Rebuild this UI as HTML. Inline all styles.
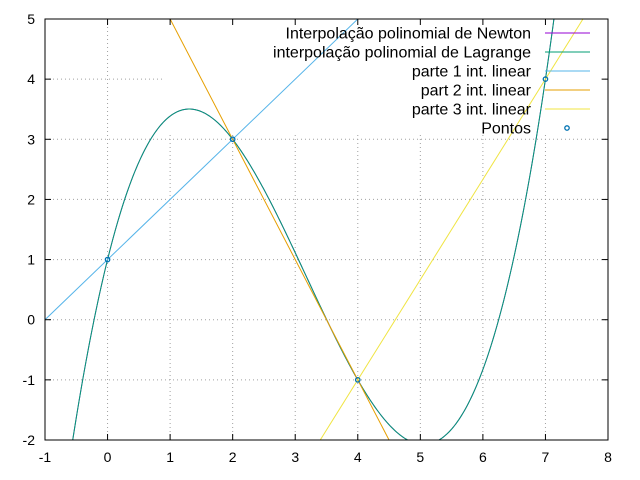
<!DOCTYPE html>
<html><head><meta charset="utf-8"><style>
html,body{margin:0;background:#fff;width:640px;height:480px;overflow:hidden}
svg{display:block;font-family:"Liberation Sans",sans-serif}
</style></head><body>
<svg id="c" width="640" height="480"></svg>
<script>
const xTicks=[-1,0,1,2,3,4,5,6,7,8];
const yTicks=[-2,-1,0,1,2,3,4,5];
const pointsX=[0,2,4,7];
const pointsY=[1,3,-1,4];
const legendLabels=["Interpolação polinomial de Newton","interpolação polinomial de Lagrange","parte 1 int. linear","part 2 int. linear","parte 3 int. linear","Pontos"];
const legendColors=["#9400d3","#009e73","#56b4e9","#e69f00","#f0e442","#0072b2"];
const X0=45,X1=608,Y0=440,Y1=19;
const sx=v=>X0+(v+1)/9*(X1-X0);
const sy=v=>Y0-(v+2)/7*(Y0-Y1);
const svg=document.getElementById('c');
const NS='http://www.w3.org/2000/svg';
function mk(t,a,p){const e=document.createElementNS(NS,t);for(const k in a)e.setAttribute(k,a[k]);(p||svg).appendChild(e);return e;}
xTicks.forEach(v=>{if(v>-1&&v<8){const l=mk('line',{x1:sx(v),x2:sx(v),y1:Y0,y2:Y1,stroke:'#a0a0a0','stroke-dasharray':'1,3','stroke-width':1});

}});
yTicks.forEach(v=>{if(v>-2&&v<5){const l=mk('line',{x1:X0,x2:X1,y1:sy(v),y2:sy(v),stroke:'#a0a0a0','stroke-dasharray':'1,3','stroke-width':1});

}});
const bg=mk('rect',{x:163,y:Y1+1,width:437,height:115,fill:'#fff'});


const defs=mk('defs',{});const cp=mk('clipPath',{id:'cp'},defs);mk('rect',{x:X0,y:Y1,width:X1-X0,height:Y0-Y1},cp);
const g=mk('g',{'clip-path':'url(#cp)'});
const n=pointsX.length;const dd=pointsY.slice();const coef=[dd[0]];
for(let j=1;j<n;j++){for(let i=n-1;i>=j;i--)dd[i]=(dd[i]-dd[i-1])/(pointsX[i]-pointsX[i-j]);coef.push(dd[j]);}
function newton(x){let r=coef[n-1];for(let i=n-2;i>=0;i--)r=r*(x-pointsX[i])+coef[i];return r;}
function lagrange(x){let s=0;for(let i=0;i<n;i++){let p=pointsY[i];for(let j=0;j<n;j++)if(j!==i)p*=(x-pointsX[j])/(pointsX[i]-pointsX[j]);s+=p;}return s;}
function curve(f,col,name){let d='';for(let k=0;k<=400;k++){const x=-1+9*k/400;const y=Math.max(-10,Math.min(20,f(x)));d+=(k?'L':'M')+sx(x).toFixed(2)+','+sy(y).toFixed(2);}
const p=mk('path',{d:d,fill:'none',stroke:col,'stroke-width':1},g);

}
curve(newton,legendColors[0],'newton-curve');
curve(lagrange,legendColors[1],'lagrange-curve');
for(let s=0;s<3;s++){const xa=pointsX[s],xb=pointsX[s+1],ya=pointsY[s],yb=pointsY[s+1];const m=(yb-ya)/(xb-xa);
const f=x=>ya+m*(x-xa);
const l=mk('line',{x1:sx(-1),y1:sy(f(-1)),x2:sx(8),y2:sy(f(8)),stroke:legendColors[2+s],'stroke-width':1},g);

}
pointsX.forEach((x,i)=>{const r=mk('circle',{cx:sx(x),cy:sy(pointsY[i]),r:2.2,fill:'none',stroke:legendColors[5],'stroke-width':1.3});

});
const fr=mk('rect',{x:X0,y:Y1,width:X1-X0,height:Y0-Y1,fill:'none',stroke:'#000','stroke-width':1});


xTicks.forEach(v=>{mk('line',{x1:sx(v),x2:sx(v),y1:Y0,y2:Y0-6,stroke:'#000'});mk('line',{x1:sx(v),x2:sx(v),y1:Y1,y2:Y1+6,stroke:'#000'});
const t=mk('text',{x:sx(v),y:Y0+22,'text-anchor':'middle','font-size':14});t.textContent=v;

});
yTicks.forEach(v=>{mk('line',{x1:X0,x2:X0+6,y1:sy(v),y2:sy(v),stroke:'#000'});mk('line',{x1:X1,x2:X1-6,y1:sy(v),y2:sy(v),stroke:'#000'});
const t=mk('text',{x:X0-10,y:sy(v)+5,'text-anchor':'end','font-size':14});t.textContent=v;

});
legendLabels.forEach((lab,i)=>{const y=33+i*19;
const t=mk('text',{x:531,y:y+5.5,'text-anchor':'end','font-size':16});t.textContent=lab;


if(i<5){const l=mk('line',{x1:545,x2:590,y1:y,y2:y,stroke:legendColors[i],'stroke-width':1});

}
else{const r=mk('circle',{cx:567,cy:y,r:2.2,fill:'none',stroke:legendColors[5],'stroke-width':1.3});

}});
</script>
</body></html>
